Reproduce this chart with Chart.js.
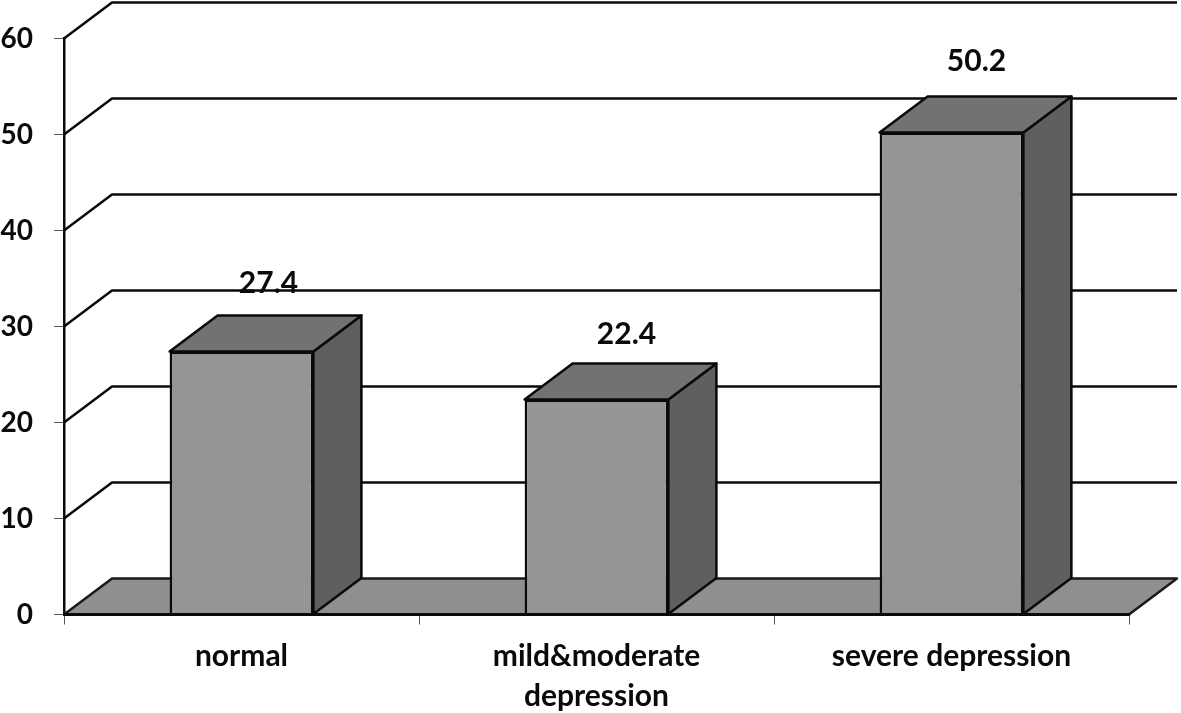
<!DOCTYPE html>
<html>
<head>
<meta charset="utf-8">
<style>
  html, body { margin: 0; padding: 0; background: #fff; }
  canvas { display: block; }
</style>
<script src="https://cdn.jsdelivr.net/npm/chart.js@4/dist/chart.umd.min.js"></script>
</head>
<body>
<canvas id="chart" width="1181" height="713"></canvas>
<script>
const categories = ['normal', ['mild&moderate', 'depression'], 'severe depression'];
const values = [27.4, 22.4, 50.2];
const yTicks = [0, 10, 20, 30, 40, 50, 60];

// depth of the fake 3D box, in pixels
const depthX = 48;
const depthY = 36;
// where the value labels sit relative to the bar's top centre
const labelShift = [[27, -68], [30, -65], [25, -71]];
const fontFamily = 'Lato, "Open Sans", sans-serif';
const ink = '#0a0a0a';

const polygon = (ctx, points, fill, stroke, width) => {
    ctx.beginPath();
    points.forEach((p, i) => (i ? ctx.lineTo(p[0], p[1]) : ctx.moveTo(p[0], p[1])));
    ctx.closePath();
    ctx.fillStyle = fill;
    ctx.fill();
    ctx.lineJoin = 'round';
    ctx.strokeStyle = stroke;
    ctx.lineWidth = width;
    ctx.stroke();
};

const box3d = {
    id: 'box3d',
    beforeDatasetsDraw(chart) {
        const { ctx, scales: { y }, chartArea: { left, right } } = chart;
        ctx.save();

        // back wall lines with the slanted part on the side wall
        yTicks.forEach((v) => {
            if (v === 0) return;
            const py = y.getPixelForValue(v);
            ctx.beginPath();
            ctx.moveTo(left, py);
            ctx.lineTo(left + depthX, py - depthY);
            ctx.lineTo(right + depthX, py - depthY);
            ctx.strokeStyle = ink;
            ctx.lineWidth = 2.5;
            ctx.stroke();
        });

        // floor
        const y0 = y.getPixelForValue(0);
        polygon(ctx, [
            [left, y0],
            [left + depthX, y0 - depthY],
            [right + depthX, y0 - depthY],
            [right, y0]
        ], '#8f8f8f', '#1a1a1a', 2.5);

        // side and top of each bar
        chart.getDatasetMeta(0).data.forEach((bar) => {
            const { x: cx, y: top, base, width } = bar.getProps(['x', 'y', 'base', 'width'], true);
            const l = cx - width / 2;
            const r = cx + width / 2;
            polygon(ctx, [
                [r, base],
                [r + depthX, base - depthY],
                [r + depthX, top - depthY],
                [r, top]
            ], '#5f5f5f', ink, 2.5);
            polygon(ctx, [
                [l, top],
                [l + depthX, top - depthY],
                [r + depthX, top - depthY],
                [r, top]
            ], '#727272', ink, 2.5);
        });
        ctx.restore();
    },
    afterDatasetsDraw(chart) {
        const { ctx } = chart;
        ctx.save();
        ctx.font = 'bold 30px ' + fontFamily;
        ctx.fillStyle = ink;
        ctx.textAlign = 'center';
        ctx.textBaseline = 'middle';
        chart.getDatasetMeta(0).data.forEach((bar, i) => {
            const { x: cx, y: top } = bar.getProps(['x', 'y'], true);
            ctx.fillText(values[i].toFixed(1), cx + labelShift[i][0], top + labelShift[i][1]);
        });
        ctx.restore();
    }
};

new Chart(document.getElementById('chart'), {
    type: 'bar',
    data: {
        labels: categories,
        datasets: [{
            data: values,
            backgroundColor: '#959595',
            borderColor: ink,
            borderWidth: 2.5,
            borderSkipped: 'start',
            barPercentage: 0.405,
            categoryPercentage: 1
        }]
    },
    plugins: [box3d],
    options: {
        responsive: false,
        animation: false,
        layout: { padding: { top: 38.5, right: 52, left: 0, bottom: 0 } },
        plugins: { legend: { display: false }, tooltip: { enabled: false } },
        scales: {
            x: {
                afterFit: (scale) => { scale.height = 98.5; },
                grid: { drawOnChartArea: false, tickLength: 10, tickColor: '#555', tickWidth: 1 },
                border: { color: ink, width: 3, z: 1 },
                ticks: {
                    color: ink,
                    maxRotation: 0,
                    autoSkip: false,
                    padding: 12,
                    font: { family: fontFamily, size: 30, weight: 'bold', lineHeight: 1.33 }
                }
            },
            y: {
                min: 0,
                max: 60,
                afterFit: (scale) => { scale.width = 64; },
                grid: { drawOnChartArea: false, tickLength: 10, tickColor: '#555', tickWidth: 1 },
                border: { color: ink, width: 2.5, z: 1 },
                ticks: {
                    stepSize: 10,
                    color: ink,
                    padding: 21,
                    font: { family: fontFamily, size: 28, weight: 'bold' }
                }
            }
        }
    }
});
</script>
</body>
</html>
